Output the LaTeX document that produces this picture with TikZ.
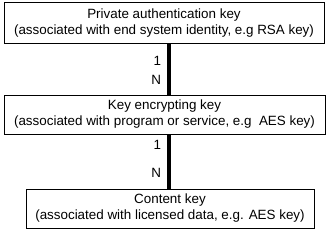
\documentclass[tikz,border=0pt]{standalone}
\usepackage{fontspec}
\setmainfont{Liberation Sans}
\begin{document}
\begin{tikzpicture}[x=1pt,y=-1pt,
  keybox/.style={draw=black,line width=1pt,align=center,inner sep=0pt,
    font=\fontsize{13.4}{16}\selectfont},
  conn/.style={line width=4pt,black},
  lbl/.style={inner sep=0pt,font=\fontsize{13.4}{16}\selectfont}]
\useasboundingbox (0,0) rectangle (330,233);
\node[keybox,minimum width=320pt,minimum height=40.5pt] (b1) at (164,22.75)
  {Private authentication key\\(associated with end system identity, e.g RSA key)};
\node[keybox,minimum width=321pt,minimum height=39pt] (b2) at (164.5,114.5)
  {Key encrypting key\\(associated with program or service, e.g\ \ AES key)};
\node[keybox,minimum width=288pt,minimum height=39pt] (b3) at (170,208.5)
  {Content key\\(associated with licensed data, e.g. AES key)};
\coordinate (ax) at (169,0);
\draw[conn] (b1.south -| ax) -- (b2.north -| ax)
  node[lbl,pos=0.35,left=6pt] {1}
  node[lbl,pos=0.71,left=6pt] {N};
\draw[conn] (b2.south -| ax) -- (b3.north -| ax)
  node[lbl,pos=0.2,left=6pt] {1}
  node[lbl,pos=0.71,left=6pt] {N};
\end{tikzpicture}
\end{document}
